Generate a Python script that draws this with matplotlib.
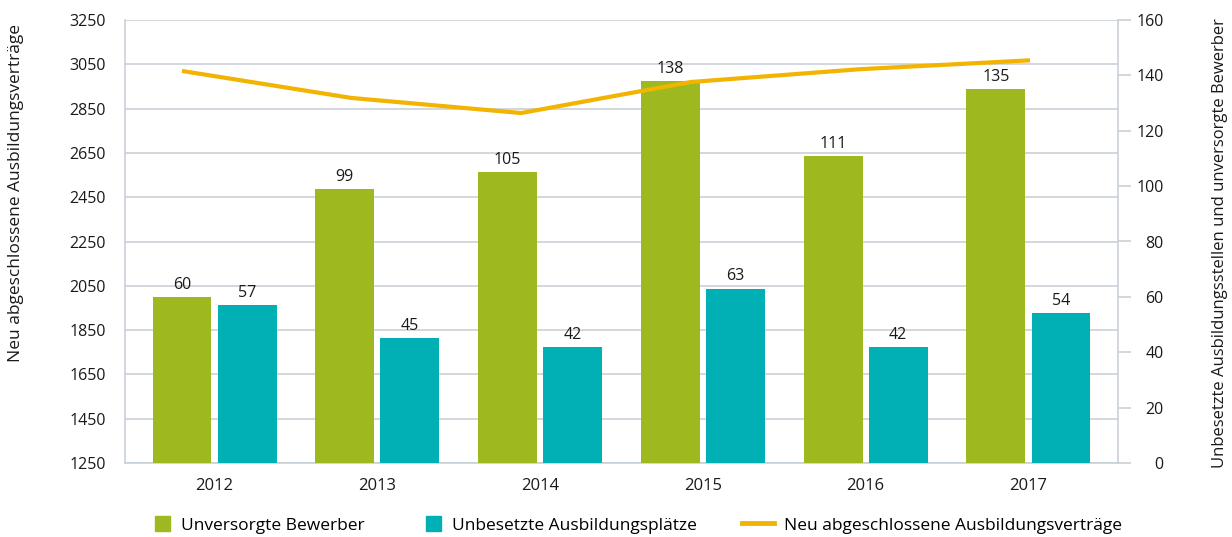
import matplotlib
matplotlib.use("Agg")
import matplotlib.pyplot as plt
from matplotlib.patches import Patch, Rectangle
from matplotlib.lines import Line2D
from matplotlib.legend_handler import HandlerPatch
import numpy as np

years = ["2012", "2013", "2014", "2015", "2016", "2017"]
unversorgt = [60, 99, 105, 138, 111, 135]
unbesetzt = [57, 45, 42, 63, 42, 54]
vertraege = [3020, 2898, 2830, 2970, 3028, 3068]

left_ticks = [1250, 1450, 1650, 1850, 2050, 2250, 2450, 2650, 2850, 3050, 3250]
right_ticks = [0, 20, 40, 60, 80, 100, 120, 140, 160]

GREEN = "#9eb820"
TEAL = "#00b0b5"
ORANGE = "#f2b400"
GRID = "#c9d1d8"
TXT = "#1a1a1a"

plt.rcParams['font.family'] = ['Open Sans', 'DejaVu Sans']

fig = plt.figure(figsize=(12.32, 5.37), dpi=100)
rect = [125/1232, 1-463/537, (1118-125)/1232, (463-20)/537]
ax = fig.add_axes(rect)
ax.set_ylim(1250, 3250)
ax.set_xlim(-0.55, 5.55)
ax.set_yticks(left_ticks)
ax.set_yticklabels([str(t) for t in left_ticks])
ax.yaxis.grid(True, color=GRID, linewidth=1.2)
ax.set_axisbelow(True)
ax.tick_params(axis='y', length=0, pad=13.5, labelsize=11.5, colors=TXT)
ax.set_xticks(range(len(years)))
ax.set_xticklabels(years)
ax.tick_params(axis='x', length=0, pad=11, labelsize=12, colors=TXT)
for s in ['top', 'right']:
    ax.spines[s].set_visible(False)
for s in ['left', 'bottom']:
    ax.spines[s].set_color(GRID)
    ax.spines[s].set_linewidth(1.2)

fig.text(16/1232, 1-193/537, "Neu abgeschlossene Ausbildungsverträge",
         rotation=90, ha='center', va='center', fontsize=12.5, color=TXT)

ax2 = ax.twinx()
ax2.set_ylim(0, 160)
x = np.arange(len(years))
w = 0.362
b1 = ax2.bar(x - 0.2, unversorgt, width=w, color=GREEN)
b2 = ax2.bar(x + 0.2, unbesetzt, width=w, color=TEAL)
for rects, vals in [(b1, unversorgt), (b2, unbesetzt)]:
    for r, v in zip(rects, vals):
        ax2.annotate(str(v), (r.get_x() + r.get_width()/2, r.get_height()),
                     xytext=(0, 3), textcoords='offset points',
                     ha='center', va='bottom', fontsize=11.5, color=TXT)
ax2.set_xlim(-0.55, 5.55)
ax2.set_yticks(right_ticks)
ax2.set_yticklabels([str(t) for t in right_ticks])
ax2.tick_params(axis='y', length=9, width=1.2, pad=24, labelsize=11.5,
                labelcolor=TXT, color=GRID)
for s in ['top', 'left', 'bottom']:
    ax2.spines[s].set_visible(False)
ax2.spines['right'].set_color(GRID)
ax2.spines['right'].set_linewidth(1.2)

# line series sits on its own (unshared) category axis, as in the source chart
ax3 = fig.add_axes(rect)
ax3.patch.set_visible(False)
ax3.set_ylim(1250, 3250)
ax3.set_xlim(-0.336, 5.519)
ax3.plot(x, vertraege, color=ORANGE, linewidth=3, solid_capstyle='butt')
ax3.set_yticks([])
ax3.set_xticks([])
for s in ax3.spines.values():
    s.set_visible(False)

fig.text(1220/1232, 1-468/537, "Unbesetzte Ausbildungsstellen und unversorgte Bewerber",
         rotation=90, ha='center', va='bottom', fontsize=12, color=TXT)


def square(legend, orig_handle, xdescent, ydescent, width, height, fontsize):
    s = 15 * 72 / 100.0
    return Rectangle((width - s - xdescent, -ydescent + (height - s) / 2), s, s)


handles = [Patch(color=GREEN), Patch(color=TEAL),
           Line2D([0], [0], color=ORANGE, linewidth=3.5)]
labels = ["Unversorgte Bewerber", "Unbesetzte Ausbildungsplätze",
          "Neu abgeschlossene Ausbildungsverträge"]
fig.legend(handles, labels, loc='center', bbox_to_anchor=(0.5115, 1-525/537), ncol=3,
           frameon=False, fontsize=12.5, handlelength=1.85, handleheight=0.9,
           columnspacing=2.6, handletextpad=0.6,
           handler_map={Patch: HandlerPatch(patch_func=square)})

fig.canvas.draw()
for lab in ax2.get_yticklabels():
    lab.set_horizontalalignment('right')

fig.savefig("out.png", dpi=100)
